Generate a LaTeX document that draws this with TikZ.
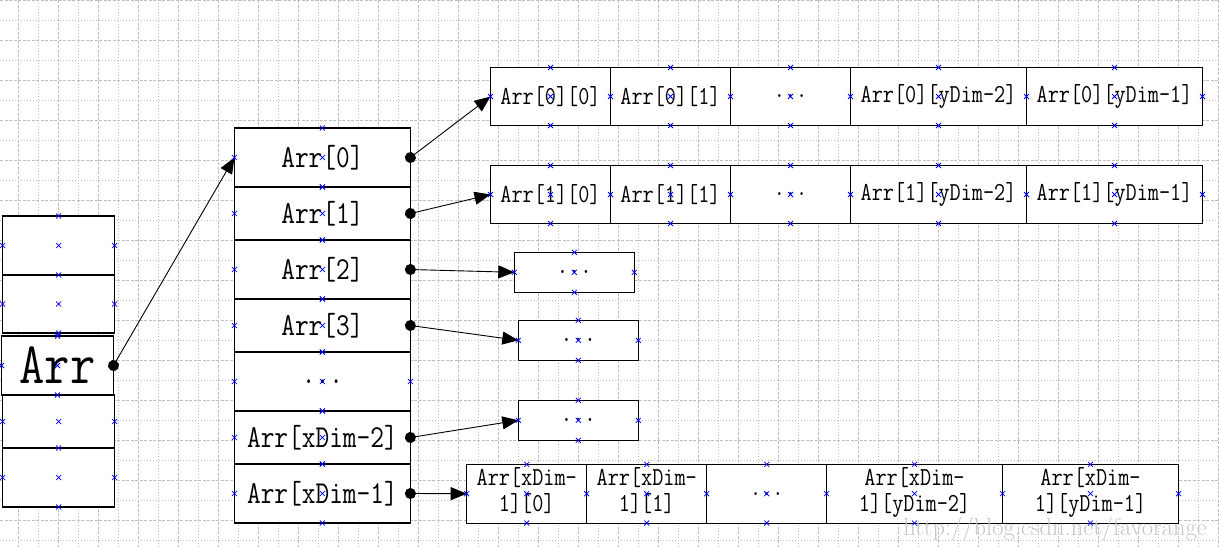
\documentclass[tikz,border=0pt]{standalone}
\usepackage{graphicx}
\usetikzlibrary{arrows.meta}
\newcommand\tx[1]{\scalebox{1}[1.2]{#1}}
\newcommand\tw[2]{\raisebox{1pt}{\scalebox{1}[1.2]{\begin{tabular}{@{}c@{}}#1\\#2\end{tabular}}}}
\begin{document}
\begin{tikzpicture}[x=1pt,y=-1pt,
  cell/.style={draw=black, fill=white, line width=1.1pt, inner sep=0pt, outer sep=0pt, text=black},
  lc/.style={cell, minimum width=112pt},
  mc/.style={cell, minimum width=176pt, font=\ttfamily\fontsize{26.6}{30}\selectfont},
  ac/.style={cell, minimum height=58pt, font=\ttfamily\fontsize{21.6}{21.6}\selectfont},
  sc/.style={cell, minimum width=120pt, minimum height=40pt, font=\ttfamily\fontsize{23}{23}\selectfont},
  narrow/.style={minimum width=120pt},
  wide/.style={minimum width=176pt},
  grida/.style={gray!50, line width=0.8pt, dash pattern=on 3pt off 1.5pt},
  gridb/.style={gray!50, line width=0.8pt, dash pattern=on 1pt off 2pt},
  link/.style={line width=0.9pt, {Circle[length=11pt]}-{Triangle[length=16pt,width=13pt]}, shorten <=-5.5pt},
  mkst/.style={blue, line width=0.75pt}]
\useasboundingbox (0,0) rectangle (1219,547);
\fill[white] (0,0) rectangle (1219,547);
% grid
\foreach \xx in {18.3,58.3,...,1218.3} {\draw[grida] (\xx,0) -- (\xx,547);}
\foreach \xx in {38.3,78.3,...,1198.3} {\draw[gridb] (\xx,0) -- (\xx,547);}
\foreach \yy in {0,40,...,520} {\draw[grida] (0,\yy) -- (1219,\yy);}
\foreach \yy in {20,60,...,540} {\draw[gridb] (0,\yy) -- (1219,\yy);}
% left column
\node[lc, minimum height=59pt] (L1) at (58.7,245.5) {};
\node[lc, minimum height=58pt] (L2) at (58.7,304) {};
\node[lc, minimum height=59pt, font=\ttfamily\fontsize{49}{52}\selectfont] (L3) at (57.5,365.5) {\tx{Arr}};
\node[lc, minimum height=53pt] (L4) at (58.7,421.5) {};
\node[lc, minimum height=59pt] (L5) at (58.7,477.5) {};
% middle column
\node[mc, minimum height=59pt] (M0) at (322.4,157.5) {\tx{Arr[0]}};
\node[mc, minimum height=53pt] (M1) at (322.4,213.5) {\tx{Arr[1]}};
\node[mc, minimum height=59pt] (M2) at (322.4,269.5) {\tx{Arr[2]}};
\node[mc, minimum height=53pt] (M3) at (322.4,325.5) {\tx{Arr[3]}};
\node[mc, minimum height=59pt] (M4) at (322.4,381.5) {\tx{...}};
\node[mc, minimum height=53pt] (M5) at (322.4,437.5) {\tx{Arr[xDim-2]}};
\node[mc, minimum height=59pt] (M6) at (322.4,493.5) {\tx{Arr[xDim-1]}};
% row 0
\node[ac, narrow] (A00) at (550.5,96.5) {\tx{Arr[0][0]}};
\node[ac, narrow] (A01) at (670.5,96.5) {\tx{Arr[0][1]}};
\node[ac, narrow] (A02) at (790.5,96.5) {\tx{...}};
\node[ac, wide] (A03) at (938.5,96.5) {\tx{Arr[0][yDim-2]}};
\node[ac, wide] (A04) at (1114.5,96.5) {\tx{Arr[0][yDim-1]}};
% row 1
\node[ac, narrow] (A10) at (550.5,194.5) {\tx{Arr[1][0]}};
\node[ac, narrow] (A11) at (670.5,194.5) {\tx{Arr[1][1]}};
\node[ac, narrow] (A12) at (790.5,194.5) {\tx{...}};
\node[ac, wide] (A13) at (938.5,194.5) {\tx{Arr[1][yDim-2]}};
\node[ac, wide] (A14) at (1114.5,194.5) {\tx{Arr[1][yDim-1]}};
% small boxes
\node[sc] (S2) at (574.3,272.3) {\tx{...}};
\node[sc] (S3) at (578.3,340.3) {\tx{...}};
\node[sc] (S5) at (578.3,420.3) {\tx{...}};
% bottom row
\node[ac, narrow, minimum height=58.7pt] (B0) at (526.7,493.7) {\tw{Arr[xDim-}{1][0]}};
\node[ac, narrow, minimum height=58.7pt] (B1) at (646.7,493.7) {\tw{Arr[xDim-}{1][1]}};
\node[ac, narrow, minimum height=58.7pt] (B2) at (766.7,493.7) {\tx{...}};
\node[ac, wide, minimum height=58.7pt] (B3) at (914.5,493.7) {\tw{Arr[xDim-}{1][yDim-2]}};
\node[ac, wide, minimum height=58.7pt] (B4) at (1090.5,493.7) {\tw{Arr[xDim-}{1][yDim-1]}};
% connectors
\draw[link] (L3.east) -- (M0.west);
\draw[link] (M0.east) -- (A00.west);
\draw[link] (M1.east) -- (A10.west);
\draw[link] (M2.east) -- (S2.west);
\draw[link] (M3.east) -- (S3.west);
\draw[link] (M5.east) -- (S5.west);
\draw[link] (M6.east) -- (B0.west);
% connection markers
\foreach \a in {L1.north,L1.south,L1.west,L1.east,L1.center,
  L2.west,L2.east,L2.center,L2.south,
  L3.north,L3.west,L3.center,L3.south,
  L4.west,L4.east,L4.center,L4.south,
  L5.west,L5.east,L5.center,L5.south,
  M4.east,A04.east,A14.east,B4.east,
  S2.north,S2.south,S2.west,S2.east,S2.center,
  S3.north,S3.south,S3.west,S3.east,S3.center,
  S5.north,S5.south,S5.west,S5.east,S5.center}
  {\draw[mkst] (\a) ++(-2.5,-2.5) -- ++(5,5) ++(-5,0) -- ++(5,-5);}
\foreach \n in {M0,M1,M2,M3,M4,M5,M6,A00,A01,A02,A03,A04,A10,A11,A12,A13,A14,B0,B1,B2,B3,B4}
  \foreach \s in {north,south,west,center}
  {\draw[mkst] (\n.\s) ++(-2.5,-2.5) -- ++(5,5) ++(-5,0) -- ++(5,-5);}
% watermark
\node[font=\rmfamily\fontsize{24.5}{24.5}\selectfont, text=gray!45, inner sep=0pt] (wm) at (1055,529) {http://blog.csdn.net/favorange};
\end{tikzpicture}
\end{document}
